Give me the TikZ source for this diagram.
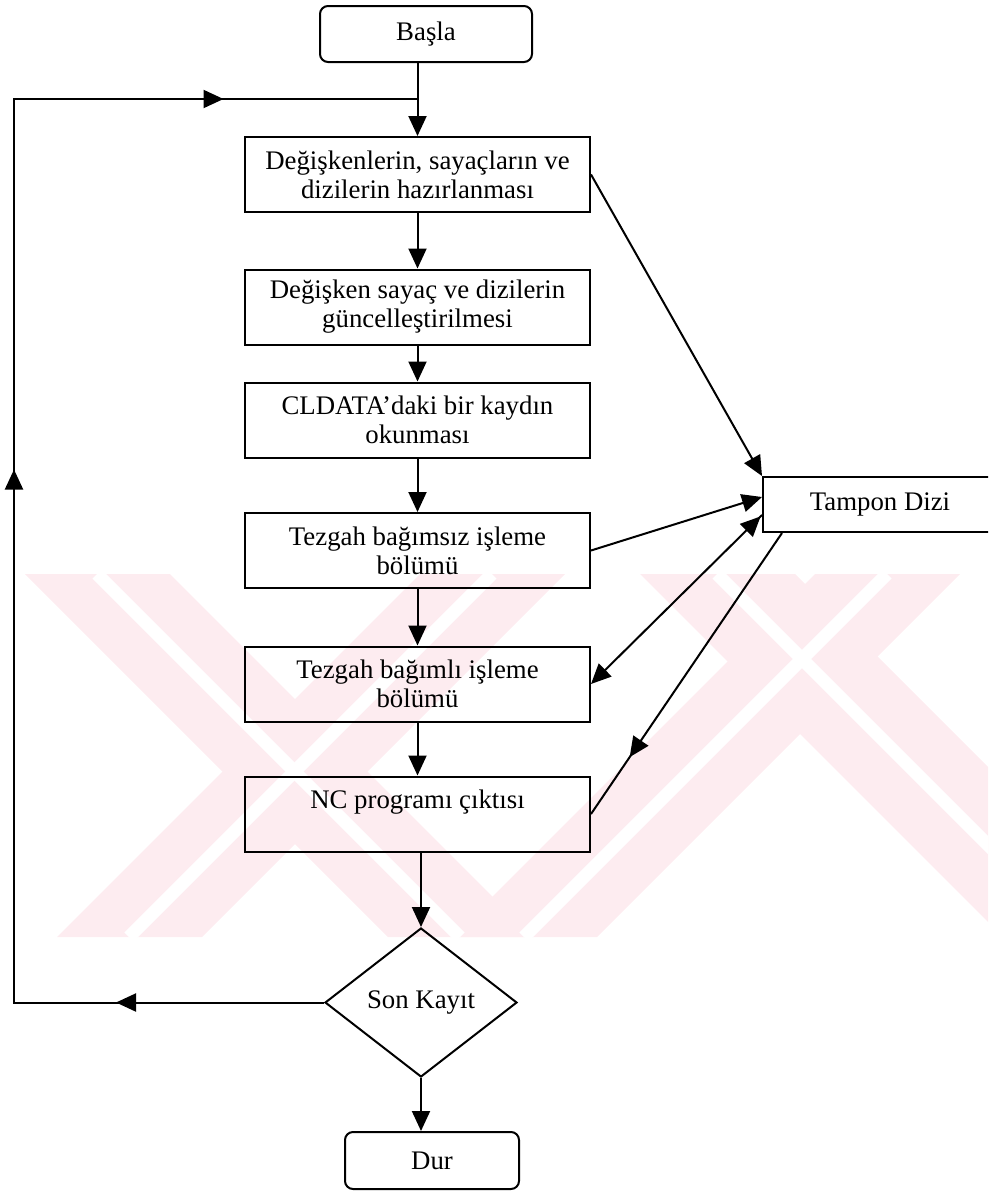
\documentclass[tikz,border=0pt]{standalone}
\usepackage{fontspec}
\setmainfont{Liberation Serif}
\usetikzlibrary{arrows.meta,shapes.geometric,decorations.markings}
\definecolor{wmpink}{RGB}{253,236,240}
\newcommand\flowfont{\fontsize{26.8}{29}\selectfont}
\begin{document}
\begin{tikzpicture}[x=1pt,y=-1pt,line width=2pt,
  >={Triangle[length=20pt,width=18pt]},
  every node/.style={font=\flowfont},
  procbox/.style={draw,rectangle,minimum width=345pt,minimum height=75pt,
                  inner sep=0pt,align=center},
  termbox/.style={draw,rectangle,rounded corners=8pt,inner sep=0pt},
  decision/.style={draw,diamond,aspect=1.29,minimum width=192pt,
                   minimum height=149pt,inner sep=0pt},
  flow/.style={->},
  midarrow/.style={postaction={decorate,decoration={markings,
                   mark=at position #1 with {\arrow{>}}}}},
  midarrowback/.style={postaction={decorate,decoration={markings,
                   mark=at position #1 with {\arrow{<}}}}}]

\useasboundingbox (0,0) rectangle (988,1191);
\clip (0,0) rectangle (988,1191);

% faint background crosses
\begin{scope}[line width=0pt]
  \fill[wmpink] (25,574) -- (170,574) -- (533,937) -- (388,937) -- cycle;
  \fill[wmpink] (420,574) -- (565,574) -- (202,937) -- (57,937) -- cycle;
  \fill[wmpink] (640,574) -- (795,574) -- (1158,937) -- (1003,937) -- cycle;
  \fill[wmpink] (815,574) -- (960,574) -- (597,937) -- (452,937) -- cycle;
  \draw[white,line width=13pt] (97,574) -- (460,937);
  \draw[white,line width=13pt] (492,574) -- (129,937);
  \draw[white,line width=13pt] (717,574) -- (1080,937);
  \draw[white,line width=13pt] (887,574) -- (524,937);
\end{scope}

% terminals
\node[termbox,minimum width=212pt,minimum height=56pt] (basla) at (426,34) {Başla};
\node[termbox,minimum width=174pt,minimum height=57pt] (dur) at (432,1160.5) {Dur};

% process steps
\node[procbox] (b1) at (417.5,174.5) {Değişkenlerin, sayaçların ve\\dizilerin hazırlanması};
\node[procbox] (b2) at (417.5,307) {Değişken sayaç ve dizilerin\\güncelleştirilmesi};
\node[procbox] (b3) at (417.5,420) {CLDATA’daki bir kaydın\\okunması};
\node[procbox] (b4) at (417.5,550.5) {Tezgah bağımsız işleme\\bölümü};
\node[procbox] (b5) at (417.5,684) {Tezgah bağımlı işleme\\bölümü};
\node[procbox] (nc) at (417.5,814) {NC programı çıktısı\\\mbox{}};

% decision
\node[decision] (son) at (421,1002.5) {Son Kayıt};

% buffer array
\node[draw,rectangle,minimum width=234pt,minimum height=55pt,inner sep=0pt]
  (tampon) at (880,504.5) {Tampon Dizi};

% main flow
\draw[flow] (b1.north |- basla.south) -- (b1.north);
\draw[flow] (b1) -- (b2);
\draw[flow] (b2) -- (b3);
\draw[flow] (b3) -- (b4);
\draw[flow] (b4) -- (b5);
\draw[flow] (b5) -- (nc);
\draw[flow] (nc.south -| son.north) -- (son.north);
\draw[flow] (son.south) -- (son.south |- dur.north);

% loop back to the start
\coordinate (lb) at (14,1002.5);
\coordinate (lt) at (14,99);
\coordinate (jn) at (417.5,99);
\draw[midarrow=208pt,midarrow=843pt,midarrow=1423pt]
  (son.west) -- (lb) -- (lt) -- (jn);

% buffer connections
\draw[flow] (b1.east) -- (tampon.north west);
\draw[flow] (b4.east) -- ([yshift=7.5pt]tampon.west);
\draw[flow,midarrowback=22pt] ([yshift=-10.5pt]tampon.west) -- (b5.east);
\draw[midarrow=271pt] ([xshift=20pt]tampon.south west) -- (nc.east);

\end{tikzpicture}
\end{document}
